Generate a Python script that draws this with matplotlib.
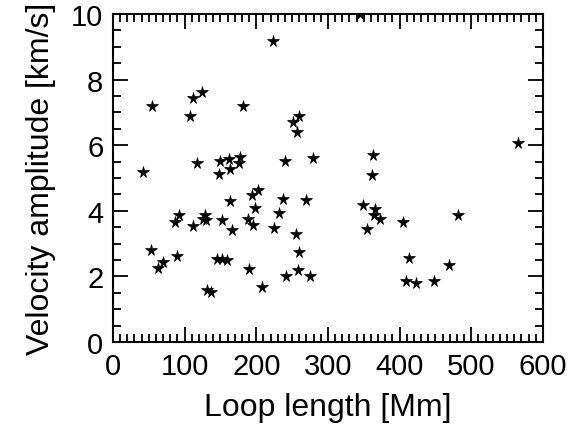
import numpy as np
import matplotlib.pyplot as plt
from matplotlib.ticker import MultipleLocator

plt.rcParams['font.family'] = ['Liberation Sans', 'DejaVu Sans']

# 环长 [Mm] 和速度振幅 [km/s]
loop_length = [223.7, 54, 112, 124.6, 107.4, 181.8, 260, 251.6, 256.3, 116.8,
               240.5, 279.5, 41.4, 149.3, 162.5, 177, 176, 163, 148, 565.5,
               363, 361, 345, 202.7, 194, 237, 269.3, 163.2, 197.5, 231,
               92.5, 86.5, 128.4, 129.8, 126, 152, 111.5, 189, 196, 166,
               224, 255, 52.6, 63.2, 69.3, 89.7, 144.7, 151.7, 158.6, 260,
               189.8, 258.6, 241, 274.9, 207.5, 131.6, 136.3, 349.5, 365.6, 364,
               373, 355, 405, 481, 412.6, 468.8, 408.8, 422.8, 447.9]
velocity = [9.17, 7.19, 7.44, 7.63, 6.90, 7.20, 6.90, 6.70, 6.39, 5.46,
            5.52, 5.60, 5.17, 5.52, 5.59, 5.63, 5.46, 5.27, 5.12, 6.07,
            5.70, 5.10, 10.0, 4.63, 4.48, 4.36, 4.33, 4.29, 4.08, 3.93,
            3.87, 3.65, 3.87, 3.72, 3.76, 3.72, 3.54, 3.76, 3.58, 3.42,
            3.47, 3.29, 2.80, 2.25, 2.43, 2.61, 2.53, 2.53, 2.51, 2.74,
            2.23, 2.20, 2.02, 2.02, 1.67, 1.59, 1.53, 4.19, 4.05, 3.86,
            3.76, 3.45, 3.67, 3.88, 2.56, 2.36, 1.85, 1.80, 1.85]

fig = plt.figure(figsize=(5.75, 4.27), dpi=100)
ax = fig.add_axes([0.1965, 0.1967, 0.7478, 0.7682])

ax.plot(loop_length, velocity, linestyle='none', marker='*', markersize=8.5,
        color='black', markeredgewidth=0.5)

ax.set_xlim(0, 600)
ax.set_ylim(0, 10)
ax.xaxis.set_major_locator(MultipleLocator(100))
ax.xaxis.set_minor_locator(MultipleLocator(10))
ax.yaxis.set_major_locator(MultipleLocator(2))
ax.yaxis.set_minor_locator(MultipleLocator(0.5))
ax.tick_params(which='both', direction='in', top=True, right=True,
               labelsize=21, width=1.3)
ax.tick_params(which='major', length=11, pad=7)
ax.tick_params(which='minor', length=6)
for s in ax.spines.values():
    s.set_linewidth(1.5)

ax.set_xlabel('Loop length [Mm]', fontsize=23, labelpad=9)
ax.set_ylabel('Velocity amplitude [km/s]', fontsize=23, labelpad=11)

plt.savefig('out.png', dpi=100)
